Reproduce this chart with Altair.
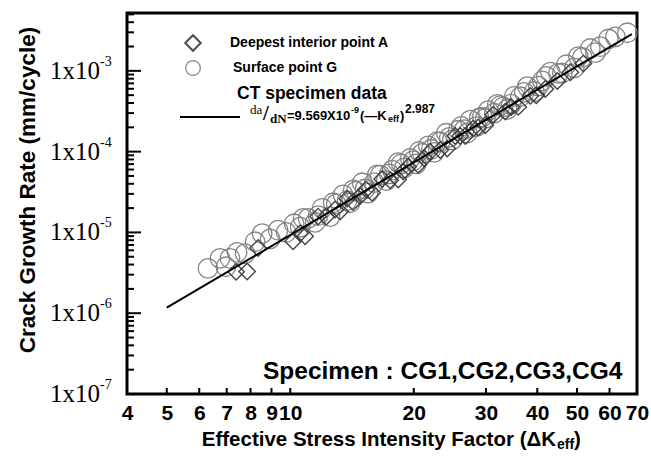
import altair as alt
import pandas as pd

# ---------------- data ----------------
circle_K = [6.30, 6.74, 7.13, 7.42, 7.76, 8.21, 8.54, 8.93, 9.34, 9.77, 10.22, 10.57, 11.05, 11.50,
            11.96, 12.51, 12.94, 13.45, 13.99, 14.47, 14.97, 15.48, 16.02, 16.56, 17.13, 17.72,
            18.33, 18.95, 19.60, 20.28, 20.97, 21.69, 22.43, 23.20, 24.00, 24.82, 25.67, 26.55,
            27.46, 28.40, 29.37, 30.38, 31.42, 32.49, 33.80, 35.15, 36.36, 37.82, 39.33, 41.14,
            43.03, 45.01, 47.08, 49.24, 51.50, 53.87, 57.00, 59.62, 66.31, 6.97,
            10.75, 11.69, 12.72, 13.76, 14.23, 15.22, 16.29, 17.42, 18.64, 19.94, 20.62, 22.06,
            22.82, 24.41, 26.10, 27.00, 28.87, 29.87, 31.96, 33.04, 34.56, 37.19, 40.24, 42.07,
            46.03, 50.36, 55.41, 62.0]
circle_R = [3.59e-6, 4.78e-6, 4.76e-6, 5.67e-6, 5.47e-6, 7.67e-6, 9.66e-6, 8.32e-6, 1.065e-5, 9.99e-6,
            1.28e-5, 1.16e-5, 1.49e-5, 1.33e-5, 1.99e-5, 1.57e-5, 2.25e-5, 2.91e-5, 2.33e-5, 3.23e-5,
            4.12e-5, 3.06e-5, 4.13e-5, 5.11e-5, 4.38e-5, 5.91e-5, 7.32e-5, 6.27e-5, 8.23e-5, 7.05e-5,
            9.50e-5, 1.18e-4, 9.80e-5, 1.32e-4, 1.69e-4, 1.40e-4, 1.84e-4, 1.87e-4, 2.45e-4, 2.04e-4,
            2.68e-4, 3.22e-4, 3.00e-4, 3.72e-4, 3.33e-4, 4.84e-4, 4.78e-4, 6.38e-4, 5.55e-4, 7.53e-4,
            9.65e-4, 9.30e-4, 1.19e-3, 1.09e-3, 1.47e-3, 1.89e-3, 1.99e-3, 2.48e-3, 2.96e-3, 3.76e-6,
            1.49e-5, 1.61e-5, 2.33e-5, 2.48e-5, 3.35e-5, 3.45e-5, 5.15e-5, 5.31e-5, 7.07e-5, 7.72e-5,
            1.01e-4, 1.07e-4, 1.33e-4, 1.50e-4, 2.05e-4, 1.70e-4, 2.62e-4, 2.58e-4, 3.85e-4, 3.59e-4,
            3.88e-4, 5.41e-4, 6.46e-4, 8.52e-4, 9.40e-4, 1.50e-3, 1.68e-3, 2.64e-3]

diamond_K = [7.38, 7.85, 8.35, 10.16, 10.57, 10.87, 11.69, 12.23, 13.23, 13.76, 14.80, 15.83, 16.75,
             17.52, 18.33, 19.38, 20.50, 21.93, 23.20, 24.13, 25.24, 26.70, 27.93, 29.87, 31.25,
             33.42, 35.95, 38.46, 41.84, 44.76, 51.80,
             12.86, 14.23, 15.31, 18.85, 21.21, 25.96, 28.71, 34.56, 39.78, 48.15]
diamond_R = [3.25e-6, 3.29e-6, 6.42e-6, 7.76e-6, 9.78e-6, 8.97e-6, 1.57e-5, 1.56e-5, 1.81e-5, 2.62e-5,
             2.83e-5, 3.09e-5, 4.59e-5, 4.43e-5, 4.52e-5, 6.52e-5, 6.88e-5, 9.98e-5, 1.05e-4, 1.09e-4,
             1.56e-4, 1.56e-4, 1.94e-4, 2.12e-4, 2.87e-4, 3.13e-4, 3.58e-4, 4.90e-4, 5.96e-4, 7.50e-4,
             1.23e-3,
             1.92e-5, 2.38e-5, 3.41e-5, 5.66e-5, 8.29e-5, 1.56e-4, 1.99e-4, 3.57e-4, 4.98e-4, 9.59e-4]

# fitted CT specimen line: da/dN = 9.569e-9 * (dKeff)^2.987, end points
line_K = [5.0, 68.0]
line_R = [1.171e-6, 2.849e-3]

x_tick_labels = [4, 5, 6, 7, 8, 9, 10, 20, 30, 40, 50, 60, 70]
x_tick_marks = [5, 6, 7, 8, 9, 10, 20, 30, 40, 50, 60]
y_major = [1e-7, 1e-6, 1e-5, 1e-4, 1e-3]
y_base = ["1x10", "1x10", "1x10", "1x10", "1x10"]
y_exp = ["-7", "-6", "-5", "-4", "-3"]
y_minor = [m * 10.0 ** e for e in range(-7, -3) for m in range(2, 10)] + [2e-3, 3e-3, 4e-3, 5e-3]

# ---------------- chart ----------------
W, H = 510, 381
xs = alt.Scale(type="log", domain=[4, 70], nice=False)
ys = alt.Scale(type="log", domain=[1e-7, 5.2e-3], nice=False)
x_axis = alt.Axis(values=x_tick_labels, labelExpr="format(datum.value, 'd')", domain=False,
                  ticks=False, grid=False, labelFont="Liberation Sans", labelFontWeight="bold",
                  labelFontSize=21, labelColor="black", labelPadding=8, labelFlush=False,
                  labelOverlap=False, labelBound=False, title=None)


def X(f):
    return alt.X(f, type="quantitative", scale=xs, axis=x_axis)


def Y(f):
    return alt.Y(f, type="quantitative", scale=ys, axis=None)


def txt(t, x, y, size, font="Liberation Sans", weight="bold", align="left", angle=0, color="black"):
    kw = dict(font=font, fontSize=size, fontWeight=weight, align=align, baseline="middle", color=color)
    if angle:
        kw["angle"] = angle
    return alt.Chart(pd.DataFrame({"t": [t]})).mark_text(**kw).encode(
        x=alt.value(x), y=alt.value(y), text="t:N")


df_c = pd.DataFrame({"K": circle_K, "R": circle_R})
df_d = pd.DataFrame({"K": diamond_K, "R": diamond_R})
df_l = pd.DataFrame({"K": line_K, "R": line_R})

circles = alt.Chart(df_c).mark_point(shape="circle", size=380, filled=False, color="#808080",
                                     strokeWidth=1.3, opacity=0.95).encode(x=X("K"), y=Y("R"))
diamonds = alt.Chart(df_d).mark_point(shape="diamond", size=270, filled=False, color="#3c3c3c",
                                      strokeWidth=1.4, opacity=0.95).encode(x=X("K"), y=Y("R"))
fit = alt.Chart(df_l).mark_line(color="black", strokeWidth=2).encode(x=X("K"), y=Y("R"))

ymaj = alt.Chart(pd.DataFrame({"v": y_major})).mark_rule(color="black", strokeWidth=2).encode(
    y=Y("v"), x=alt.value(0), x2=alt.value(14))
ymin = alt.Chart(pd.DataFrame({"v": y_minor})).mark_rule(color="black", strokeWidth=2).encode(
    y=Y("v"), x=alt.value(0), x2=alt.value(7))
xtk = alt.Chart(pd.DataFrame({"v": x_tick_marks})).mark_rule(color="black", strokeWidth=2).encode(
    x=X("v"), y=alt.value(H), y2=alt.value(H - 6))

df_yl = pd.DataFrame({"v": y_major, "b": y_base, "e": y_exp})
ylab = alt.Chart(df_yl).mark_text(font="Liberation Serif", fontSize=25, align="right",
                                  baseline="middle", color="black").encode(
    y=Y("v"), x=alt.value(-27), text="b:N")
yexp = alt.Chart(df_yl).mark_text(font="Liberation Serif", fontSize=14, align="left",
                                  baseline="middle", color="black", dy=-9).encode(
    y=Y("v"), x=alt.value(-27), text="e:N")

# legend
leg_d = alt.Chart(pd.DataFrame({"a": [0]})).mark_point(shape="diamond", size=240, filled=False,
                                                       color="black", strokeWidth=2).encode(
    x=alt.value(66), y=alt.value(30))
leg_c = alt.Chart(pd.DataFrame({"a": [0]})).mark_point(shape="circle", size=216, filled=False,
                                                       color="#6e6e6e", strokeWidth=1.5).encode(
    x=alt.value(66), y=alt.value(55))
leg_l = alt.Chart(pd.DataFrame({"a": [0]})).mark_rule(color="black", strokeWidth=2).encode(
    x=alt.value(53), x2=alt.value(113), y=alt.value(104))

texts = [
    txt("Deepest interior point A", 103, 30, 14),
    txt("Surface point G", 106, 55, 14),
    txt("CT specimen data", 110, 81, 17.5),
    txt("da", 123, 97, 13, font="Liberation Serif", weight="normal"),
    txt("/", 136, 101, 21, font="Liberation Serif", weight="bold"),
    txt("dN", 143, 106, 13, font="Liberation Serif", weight="bold"),
    txt("=9.569X10", 160, 103, 13),
    txt("-9", 224, 97, 9),
    txt("(\u2014K", 233, 103, 13),
    txt("eff", 261, 106, 9),
    txt(")", 273, 103, 13),
    txt("2.987", 278, 96, 12),
    txt("Specimen : CG1,CG2,CG3,CG4", 136, 359, 24.5),
    txt("Crack Growth Rate (mm/cycle)", -99, 177, 22.5, align="center", angle=270),
    txt("Effective Stress Intensity Factor (\u0394K", 429, 427, 20.5, align="right"),
    txt("eff", 430, 432, 14),
    txt(")", 447, 427, 20.5),
]

chart = alt.layer(circles, diamonds, fit, ymaj, ymin, xtk, ylab, yexp, leg_d, leg_c, leg_l, *texts).properties(
    width=W, height=H,
    autosize=alt.AutoSizeParams(type="none"),
    padding={"left": 127, "top": 13, "right": 14, "bottom": 68},
    background="white",
).configure_view(stroke="black", strokeWidth=3)

chart.save("out.html", embed_options={"renderer": "svg", "actions": False})
